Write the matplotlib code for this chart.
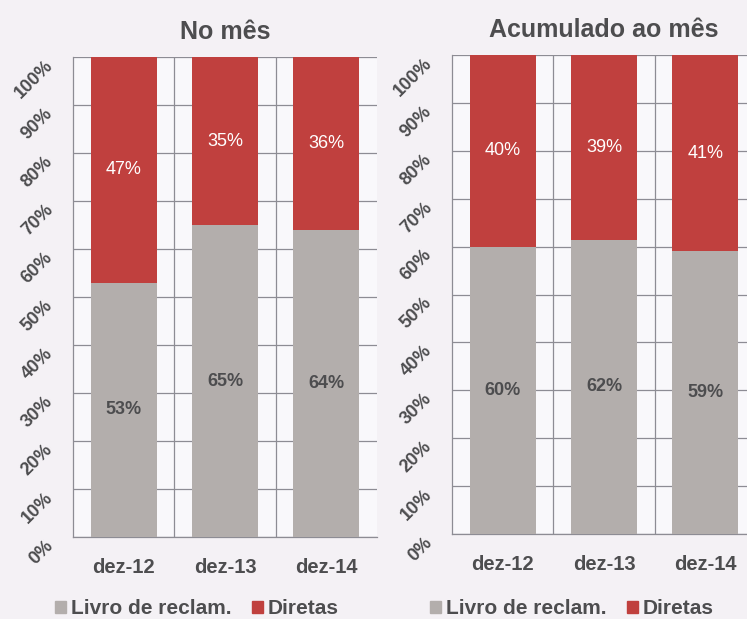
import matplotlib.pyplot as plt
import numpy as np

# dados
meses = ['dez-12', 'dez-13', 'dez-14']
livro_mes = [53, 65, 64]
diretas_mes = [47, 35, 36]
livro_acum = [60, 62, 59]
diretas_acum = [40, 39, 41]
titulos = ['No mês', 'Acumulado ao mês']
series = ['Livro de reclam.', 'Diretas']

cor_livro = '#b3aeac'
cor_diretas = '#c0403e'
cor_texto = '#4d4d4f'

plt.rcParams['font.family'] = ['Liberation Sans', 'DejaVu Sans']

fig = plt.figure(figsize=(7.47, 6.19), dpi=100)
fig.patch.set_facecolor('#f4f1f5')

W, H = 747, 619
# posições das áreas de gráfico em pixels: esquerda, topo, baixo
paineis = [(73, 57, 537), (452, 55, 534)]
dados = [(livro_mes, diretas_mes), (livro_acum, diretas_acum)]

for (x0, ytop, ybot), titulo, (livro, diretas) in zip(paineis, titulos, dados):
    ax = fig.add_axes([x0 / W, 1 - ybot / H, 304 / W, (ybot - ytop) / H])
    ax.set_facecolor('#f9f8fb')
    livro = np.array(livro, dtype=float)
    diretas = np.array(diretas, dtype=float)
    total = livro + diretas
    p_livro = livro / total * 100
    p_diretas = diretas / total * 100
    x = np.arange(len(meses))

    b1 = ax.bar(x, p_livro, width=0.65, color=cor_livro, zorder=3)
    b2 = ax.bar(x, p_diretas, width=0.65, bottom=p_livro, color=cor_diretas, zorder=3)
    ax.bar_label(b1, labels=[f'{int(v)}%' for v in livro], label_type='center',
                 color=cor_texto, fontsize=13, fontweight='bold')
    ax.bar_label(b2, labels=[f'{int(v)}%' for v in diretas], label_type='center',
                 color='white', fontsize=13)

    ax.set_xlim(-0.5, 2.5)
    ax.set_ylim(0, 100)
    ax.set_yticks(np.arange(0, 101, 10))
    ax.set_yticklabels([f'{v}%' for v in range(0, 101, 10)], rotation=45,
                       ha='right', va='top', fontsize=13, fontweight='bold', color=cor_texto)
    ax.set_xticks(x)
    ax.set_xticklabels(meses, fontsize=14.5, fontweight='bold', color=cor_texto)
    ax.tick_params(axis='both', length=0)
    ax.tick_params(axis='y', pad=12)
    ax.tick_params(axis='x', pad=15)

    ax.grid(axis='y', color='#8d8c94', linewidth=0.9, zorder=0)
    for xv in [0.5, 1.5]:
        ax.axvline(xv, color='#8d8c94', linewidth=0.9, zorder=0)
    for s in ['top', 'right']:
        ax.spines[s].set_visible(False)
    for s in ['left', 'bottom']:
        ax.spines[s].set_color('#8d8c94')
        ax.spines[s].set_linewidth(0.9)

    ax.set_title(titulo, fontsize=18, fontweight='bold', color=cor_texto, pad=13)

# legendas
for cx in [197 / W, 572 / W]:
    hs = [plt.Rectangle((0, 0), 1, 1, color=cor_livro),
          plt.Rectangle((0, 0), 1, 1, color=cor_diretas)]
    leg = fig.legend(hs, series, loc='center', bbox_to_anchor=(cx, 1 - 609 / H),
                     ncol=2, frameon=False, handlelength=0.5, handleheight=0.5,
                     handletextpad=0.25, columnspacing=1.0,
                     prop={'weight': 'bold', 'size': 15})
    for t in leg.get_texts():
        t.set_color(cor_texto)

fig.savefig('out.png', dpi=100, facecolor=fig.get_facecolor())
